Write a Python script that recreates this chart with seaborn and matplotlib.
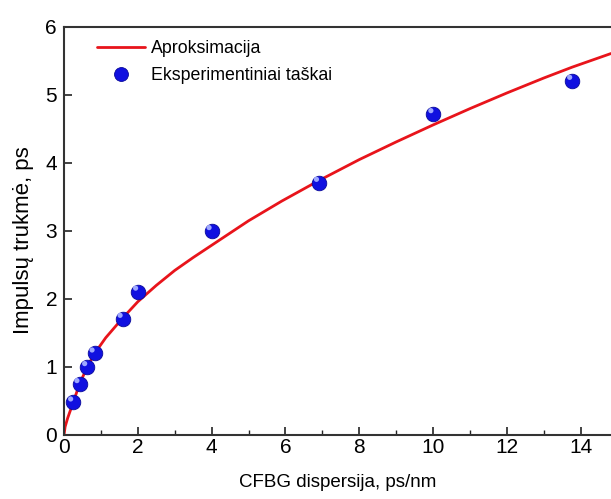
import matplotlib
matplotlib.use("Agg")
import matplotlib.pyplot as plt
import seaborn as sns
import pandas as pd
from matplotlib.ticker import MultipleLocator
from matplotlib.lines import Line2D

# Experimental points
exp_x = [0.25, 0.42, 0.63, 0.83, 1.59, 2.01, 4.0, 6.91, 10.01, 13.77]
exp_y = [0.48, 0.75, 1.00, 1.20, 1.71, 2.11, 3.00, 3.71, 4.72, 5.21]

# Approximation curve
fit_x = [0, 0.03, 0.1, 0.25, 0.42, 0.63, 0.83, 1.13, 1.59, 2.0, 2.5, 3.0, 3.5, 4.0,
         5.0, 5.9, 6.9, 8.0, 9.0, 10.0, 11.0, 12.0, 13.0, 13.77, 14.82]
fit_y = [0, 0.12, 0.25, 0.48, 0.75, 1.00, 1.20, 1.43, 1.72, 1.96, 2.20, 2.42, 2.61, 2.79,
         3.15, 3.44, 3.74, 4.05, 4.31, 4.56, 4.80, 5.03, 5.25, 5.41, 5.61]

legend_labels = ["Aproksimacija", "Eksperimentiniai taškai"]
x_label = "CFBG dispersija, ps/nm"
y_label = "Impulsų trukmė, ps"

sns.set_style("ticks")
plt.rcParams['font.family'] = ['Liberation Sans', 'DejaVu Sans']
plt.rcParams['text.color'] = 'black'
plt.rcParams['axes.labelcolor'] = 'black'
plt.rcParams['xtick.color'] = '#222222'
plt.rcParams['ytick.color'] = '#222222'
plt.rcParams['xtick.labelcolor'] = 'black'
plt.rcParams['ytick.labelcolor'] = 'black'

fig = plt.figure(figsize=(6.11, 4.99), dpi=100)
ax = fig.add_axes([64/611, 64/499, 1 - 64/611, (435-27)/499])

df_fit = pd.DataFrame({"x": fit_x, "y": fit_y})
df_exp = pd.DataFrame({"x": exp_x, "y": exp_y})

sns.lineplot(data=df_fit, x="x", y="y", ax=ax, color="#e8141b", linewidth=2.0,
             sort=False, zorder=2)
sns.scatterplot(data=df_exp, x="x", y="y", ax=ax, color="#1010e0", s=110,
                edgecolor="#0a0a9a", linewidth=0.6, zorder=3)
# highlight for sphere look
ax.scatter(df_exp["x"] - 0.07, df_exp["y"] + 0.05, s=14, color="#9ea8ff",
           edgecolor="none", zorder=4)

ax.set_xlim(0, 14.82)
ax.set_ylim(0, 6)
ax.xaxis.set_major_locator(MultipleLocator(2))
ax.xaxis.set_minor_locator(MultipleLocator(1))
ax.yaxis.set_major_locator(MultipleLocator(1))

ax.tick_params(axis="both", which="major", direction="in", length=6, width=1.2,
               labelsize=15)
ax.tick_params(axis="x", which="minor", direction="in", length=3.5, width=1.0)
ax.tick_params(axis="x", pad=2)
ax.tick_params(axis="y", pad=5)

for side in ["left", "bottom", "top"]:
    ax.spines[side].set_linewidth(1.5)
    ax.spines[side].set_color("#333333")
ax.spines["right"].set_visible(False)

ax.set_xlabel(x_label, fontsize=13.5)
ax.set_ylabel(y_label, fontsize=16)
ax.xaxis.set_label_coords(0.501, -0.095)
ax.yaxis.set_label_coords(-0.055, 0.478)

handles = [
    Line2D([0], [0], color="#e8141b", linewidth=2.0),
    Line2D([0], [0], marker="o", linestyle="none", markersize=10,
           markerfacecolor="#1010e0", markeredgecolor="#0a0a9a", markeredgewidth=0.6),
]
ax.legend(handles, legend_labels, loc="upper left", frameon=False, fontsize=12.8,
          handlelength=2.7, handletextpad=0.35, borderaxespad=0.0, borderpad=0.0,
          labelspacing=0.55, bbox_to_anchor=(33/547, 1 - 13/408))

fig.savefig("out.png", dpi=100)
